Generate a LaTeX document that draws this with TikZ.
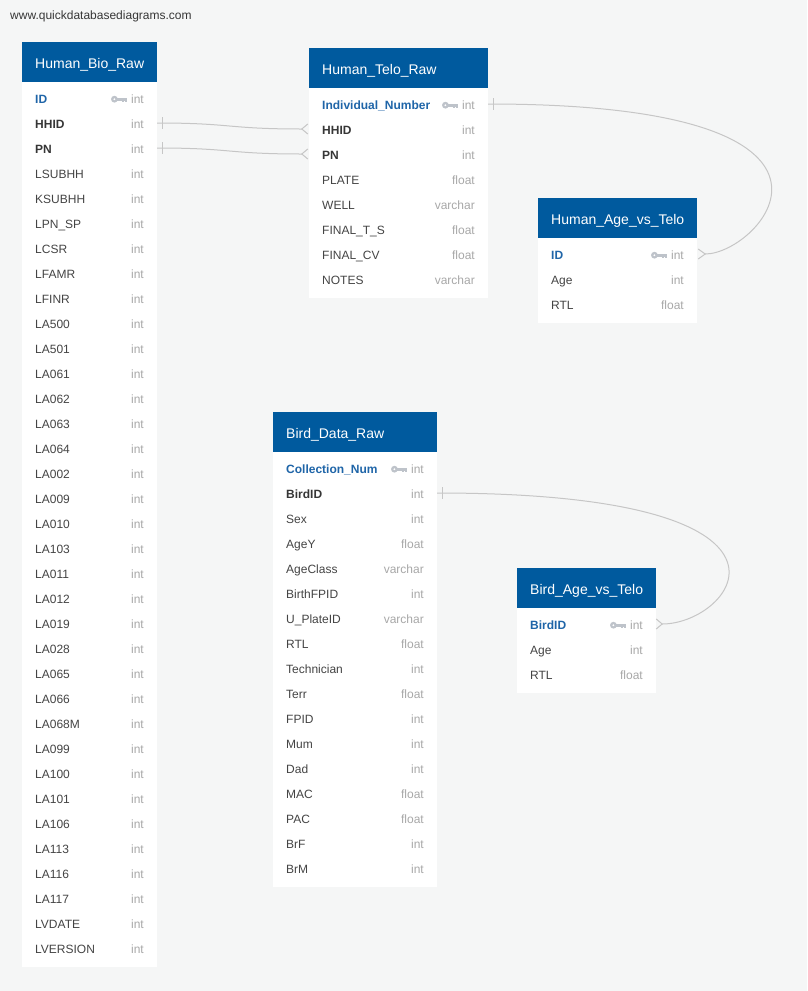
\documentclass[tikz,border=0pt]{standalone}
\usepackage{fontspec}
\setmainfont{Liberation Sans}
\definecolor{bg}{HTML}{F5F6F6}
\definecolor{hdrblue}{HTML}{005A9E}
\definecolor{keyblue}{HTML}{1F65A8}
\definecolor{txt}{HTML}{444444}
\definecolor{txtb}{HTML}{363636}
\definecolor{typ}{HTML}{A8A8A8}
\definecolor{keyg}{HTML}{BEC3CA}
\definecolor{lin}{HTML}{C6C6C6}
\tikzset{
  hdrbox/.style={fill=hdrblue, draw=none, anchor=north west, minimum height=40pt, inner sep=0pt},
  hdrtxt/.style={text=white, font=\fontsize{14}{16}\selectfont, anchor=base west, inner sep=0pt},
  rowbox/.style={minimum height=25pt, inner sep=0pt},
  nf/.style={text=txt, font=\fontsize{12}{14}\selectfont, inner sep=0pt},
  bf/.style={text=txtb, font=\fontsize{12}{14}\selectfont\bfseries, inner sep=0pt},
  pk/.style={text=keyblue, font=\fontsize{12}{14}\selectfont\bfseries, inner sep=0pt},
  tf/.style={text=typ, font=\fontsize{12}{14}\selectfont, inner sep=0pt},
  rel/.style={draw=lin, line width=1pt},
  keyicon/.pic={
    \fill[keyg] (-12.5,0) circle (3.4);
    \fill[white] (-12.5,0) circle (1.0);
    \fill[keyg] (-10,-1.5) rectangle (0,1.3);
    \fill[keyg] (-5.4,1.3) rectangle (-3.4,3.2);
    \fill[keyg] (-2.2,1.3) rectangle (0,2.8);
  }
}
\newcommand\dbtable[7]{%
  \fill[white] (#2,#3) rectangle (#2+#4,#3+50+25*#6);
  \node[hdrbox, minimum width=#4pt] (#1) at (#2,#3) {};
  \node[hdrtxt] (#1-title) at (#2+13,#3+26) {#5};
  \foreach \nm/\ty/\st [count=\i] in {#7} {
    \pgfmathsetmacro\yy{#3+56+25*(\i-1)}
    \node[rowbox, minimum width=#4pt] (#1-\i) at (#2+#4/2,\yy) {};
    \node[\st, anchor=base west] (#1-n\i) at (#2+13,\yy+5) {\nm};
    \node[tf, anchor=base east] (#1-t\i) at (#2+#4-13,\yy+5) {\ty};
  }
}
\begin{document}
\begin{tikzpicture}[x=1pt,y=-1pt]
\fill[bg] (0,0) rectangle (807,991);
\useasboundingbox (0,0) rectangle (807,991);
\node[nf, text=txtb, anchor=base west] (url) at (10,19.8) {www.quickdatabasediagrams.com};

\dbtable{bio}{22}{42}{135}{Human\_Bio\_Raw}{35}{ID/int/pk, HHID/int/bf, PN/int/bf, LSUBHH/int/nf, KSUBHH/int/nf, LPN\_SP/int/nf, LCSR/int/nf, LFAMR/int/nf, LFINR/int/nf, LA500/int/nf, LA501/int/nf, LA061/int/nf, LA062/int/nf, LA063/int/nf, LA064/int/nf, LA002/int/nf, LA009/int/nf, LA010/int/nf, LA103/int/nf, LA011/int/nf, LA012/int/nf, LA019/int/nf, LA028/int/nf, LA065/int/nf, LA066/int/nf, LA068M/int/nf, LA099/int/nf, LA100/int/nf, LA101/int/nf, LA106/int/nf, LA113/int/nf, LA116/int/nf, LA117/int/nf, LVDATE/int/nf, LVERSION/int/nf}

\dbtable{telo}{309}{48}{179}{Human\_Telo\_Raw}{8}{Individual\_Number/int/pk, HHID/int/bf, PN/int/bf, PLATE/float/nf, WELL/varchar/nf, FINAL\_T\_S/float/nf, FINAL\_CV/float/nf, NOTES/varchar/nf}

\dbtable{hage}{538}{198}{159}{Human\_Age\_vs\_Telo}{3}{ID/int/pk, Age/int/nf, RTL/float/nf}

\dbtable{bird}{273}{412}{164}{Bird\_Data\_Raw}{17}{Collection\_Num/int/pk, BirdID/int/bf, Sex/int/nf, AgeY/float/nf, AgeClass/varchar/nf, BirthFPID/int/nf, U\_PlateID/varchar/nf, RTL/float/nf, Technician/int/nf, Terr/float/nf, FPID/int/nf, Mum/int/nf, Dad/int/nf, MAC/float/nf, PAC/float/nf, BrF/int/nf, BrM/int/nf}

\dbtable{bage}{517}{568}{139}{Bird\_Age\_vs\_Telo}{3}{BirdID/int/pk, Age/int/nf, RTL/float/nf}

% key icons
\foreach \t in {bio,telo,hage,bird,bage}
  \pic at ([shift={(-4,-3.8)}]\t-t1.base west) {keyicon};

% crow's foot heels
\coordinate (cfA) at ([xshift=-7pt]telo-2.west);
\coordinate (cfB) at ([xshift=-7pt]telo-3.west);
\coordinate (cfC) at ([xshift=8pt]hage-1.east);
\coordinate (cfD) at ([xshift=6pt]bage-1.east);

% HHID
\draw[rel] (bio-2.east) .. controls +(75,0) and +(-75,0) .. (cfA);
\draw[rel] ([shift={(5,-6)}]bio-2.east) -- ([shift={(5,6)}]bio-2.east);
\draw[rel] ([shift={(-1,-5)}]telo-2.west) -- (cfA) -- ([shift={(-1,5)}]telo-2.west);
% PN
\draw[rel] (bio-3.east) .. controls +(75,0) and +(-75,0) .. (cfB);
\draw[rel] ([shift={(5,-6)}]bio-3.east) -- ([shift={(5,6)}]bio-3.east);
\draw[rel] ([shift={(-1,-5)}]telo-3.west) -- (cfB) -- ([shift={(-1,5)}]telo-3.west);
% Individual_Number -> ID
\draw[rel] (telo-1.east) .. controls +(408,0) and +(55,0) .. (cfC);
\draw[rel] ([shift={(5,-6)}]telo-1.east) -- ([shift={(5,6)}]telo-1.east);
\draw[rel] ([shift={(1,-5)}]hage-1.east) -- (cfC) -- ([shift={(1,5)}]hage-1.east);
% BirdID -> BirdID
\draw[rel] (bird-2.east) .. controls +(399,0) and +(71,0) .. (cfD);
\draw[rel] ([shift={(5,-6)}]bird-2.east) -- ([shift={(5,6)}]bird-2.east);
\draw[rel] ([shift={(0,-5)}]bage-1.east) -- (cfD) -- ([shift={(0,5)}]bage-1.east);
\end{tikzpicture}
\end{document}
